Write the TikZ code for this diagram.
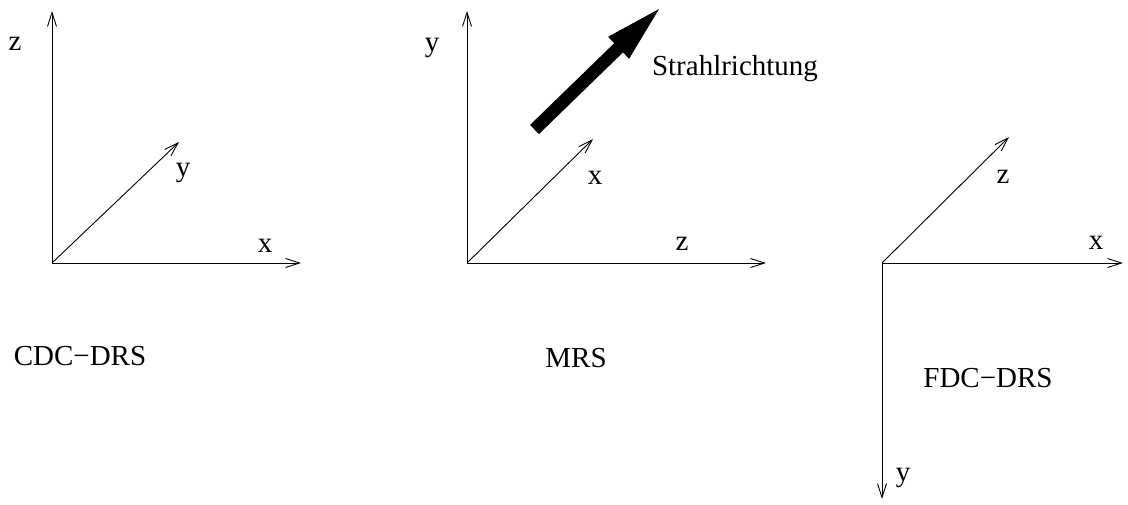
\documentclass[tikz,border=0pt]{standalone}
\usepackage{fontspec}
\setmainfont{Liberation Serif}
\usetikzlibrary{arrows.meta}
\tikzset{
  axis/.style={line width=0.9pt, -{Straight Barb[length=14pt,width=9pt,line width=0.9pt]}},
  lbl/.style={font=\fontsize{29}{34}\selectfont, inner sep=0pt},
  beam/.style={fill=black, draw=none}
}
\begin{document}
\begin{tikzpicture}[x=1pt,y=-1pt]
\useasboundingbox (0,0) rectangle (1128,504);
% Panel 1: CDC-DRS
\coordinate (o1) at (52,263);
\coordinate (z1) at (52,11);
\coordinate (x1) at (301,263);
\coordinate (y1) at (179,142);
\draw[axis] (o1) -- (z1);
\draw[axis] (o1) -- (x1);
\draw[axis] (o1) -- (y1);
\node[lbl] (lz1) at (15,44) {z};
\node[lbl] (ly1) at (183,173) {y};
\node[lbl] (lx1) at (265,246) {x};
\node[lbl] (t1) at (80,356) {CDC−DRS};
% Panel 2: MRS
\coordinate (o2) at (467,263);
\coordinate (y2) at (467,11);
\coordinate (z2) at (766,263);
\coordinate (x2) at (593,139);
\draw[axis] (o2) -- (y2);
\draw[axis] (o2) -- (z2);
\draw[axis] (o2) -- (x2);
\node[lbl] (ly2) at (432,48) {y};
\node[lbl] (lx2) at (595,178) {x};
\node[lbl] (lz2) at (682,244) {z};
\node[lbl] (t2) at (576,358) {MRS};
\node[lbl] (strahl) at (735,69) {Strahlrichtung};
\fill[beam] (538.9,134.1) -- (623.0,52.4) -- (629.1,58.8) -- (659,9) -- (608.1,36.8) -- (614.2,43.2) -- (530.1,124.9) -- cycle;
% Panel 3: FDC-DRS
\coordinate (o3) at (882,263);
\coordinate (x3) at (1123,263);
\coordinate (y3) at (882,499);
\coordinate (z3) at (1009,137);
\draw[axis] (o3) -- (x3);
\draw[axis] (o3) -- (y3);
\draw[axis] (o3) -- (z3);
\node[lbl] (lz3) at (1003,177) {z};
\node[lbl] (lx3) at (1096,243) {x};
\node[lbl] (ly3) at (903,478) {y};
\node[lbl] (t3) at (988,378) {FDC−DRS};
\end{tikzpicture}
\end{document}
